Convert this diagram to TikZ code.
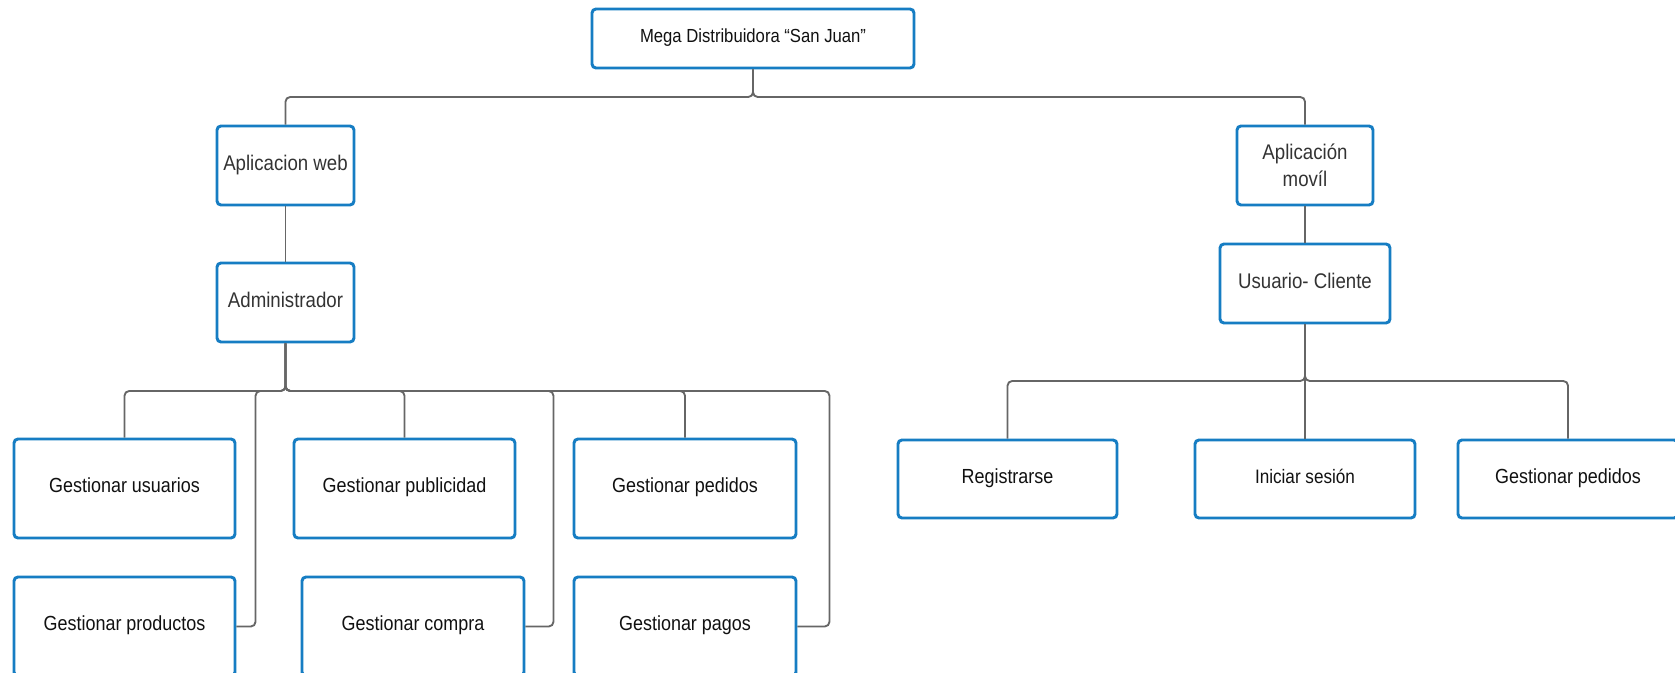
\documentclass[tikz,border=0pt]{standalone}
\usepackage{fontspec}
\setmainfont[FakeStretch=0.88]{Liberation Sans}
\definecolor{boxblue}{RGB}{22,125,195}
\definecolor{wire}{RGB}{102,102,102}
\definecolor{darktext}{RGB}{51,51,51}
\definecolor{blacktext}{RGB}{17,17,17}

\begin{document}
\begin{tikzpicture}[x=0.75pt, y=-0.75pt,
  box/.style={draw=boxblue, line width=2.2pt, rounded corners=3pt, fill=white,
    inner sep=0pt, text height=11pt, text depth=4.5pt},
  boxsize/.style 2 args={minimum width=#1*0.75pt, minimum height=#2*0.75pt},
  task/.style={box, font=\fontsize{15.3}{18}\selectfont, text=blacktext},
  level/.style={box, font=\fontsize{15.9}{20}\selectfont, text=darktext, text height=11.4pt},
  wirestyle/.style={draw=wire, line width=1.4pt, rounded corners=3.5pt}
]
\useasboundingbox (0,0) rectangle (1675,673);
\fill[white] (0,0) rectangle (1675,673);
\clip (0,0) rectangle (1675,673);

% root
\node[box, boxsize={322}{59}, font=\fontsize{14.2}{17}\selectfont, text=blacktext,
  text height=10.2pt] (mega) at (753,38.5) {Mega Distribuidora “San Juan”};

% web branch
\node[level, boxsize={137}{79}] (web) at (285.5,165.5) {Aplicacion web};
\node[level, boxsize={137}{79}] (admin) at (285.5,302.5) {Administrador};

\node[task, boxsize={221}{99}] (usuarios)   at (124.5,488.5) {Gestionar usuarios};
\node[task, boxsize={221}{99}] (productos)  at (124.5,626.5) {Gestionar productos};
\node[task, boxsize={221}{99}] (publicidad) at (404.5,488.5) {Gestionar publicidad};
\node[task, boxsize={222}{99}] (compra)     at (413,626.5)   {Gestionar compra};
\node[task, boxsize={222}{99}] (pedidos)    at (685,488.5)   {Gestionar pedidos};
\node[task, boxsize={222}{99}] (pagos)      at (685,626.5)   {Gestionar pagos};

% mobile branch
\node[box, boxsize={136}{79}, font=\fontsize{15.9}{20}\selectfont, text=darktext,
  align=center, text height=, text depth=] (movil) at (1305,165.5) {Aplicación\\movíl};
\node[level, boxsize={170}{79}] (cliente) at (1305,283.5) {Usuario- Cliente};

\node[task, boxsize={219}{78}] (registrarse) at (1007.5,479) {Registrarse};
\node[task, boxsize={220}{78}, font=\fontsize{14.6}{17}\selectfont] (iniciar) at (1305,479) {Iniciar sesión};
\node[task, boxsize={220}{78}] (pedidosm) at (1568,479) {Gestionar pedidos};

% bus levels
\coordinate (topbus) at (0,97);
\coordinate (adminbus) at (0,391);
\coordinate (clientbus) at (0,381);

% connectors
\draw[wirestyle] (mega.south) -- (mega.south |- topbus) -| (web.north);
\draw[wirestyle] (mega.south) -- (mega.south |- topbus) -| (movil.north);
\draw[wirestyle] (web.south) -- (admin.north);
\draw[wirestyle] (movil.south) -- (cliente.north);

\draw[wirestyle] (admin.south) -- (admin.south |- adminbus) -| (usuarios.north);
\draw[wirestyle] (admin.south) -- (admin.south |- adminbus) -| (publicidad.north);
\draw[wirestyle] (admin.south) -- (admin.south |- adminbus) -| (pedidos.north);
\draw[wirestyle] (admin.south) -- (admin.south |- adminbus) -| ([xshift=14.3pt]productos.east) -- (productos.east);
\draw[wirestyle] (admin.south) -- (admin.south |- adminbus) -| ([xshift=21pt]compra.east) -- (compra.east);
\draw[wirestyle] (admin.south) -- (admin.south |- adminbus) -| ([xshift=24pt]pagos.east) -- (pagos.east);

\draw[wirestyle] (cliente.south) -- (iniciar.north);
\draw[wirestyle] (cliente.south) -- (cliente.south |- clientbus) -| (registrarse.north);
\draw[wirestyle] (cliente.south) -- (cliente.south |- clientbus) -| (pedidosm.north);
\end{tikzpicture}
\end{document}
